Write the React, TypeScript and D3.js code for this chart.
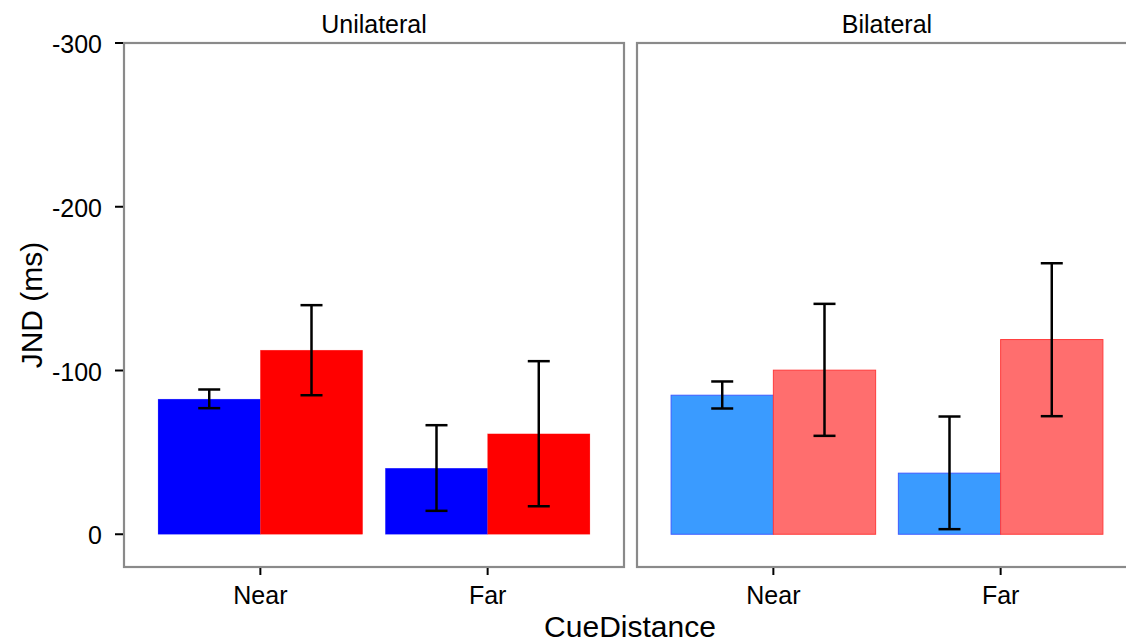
import React from "react";
import * as d3 from "d3";

const facets = ["Unilateral", "Bilateral"];
const categories = ["Near", "Far"];
const groups = ["Condition1", "Condition2"];

// mean values per facet, [Near, Far]
const uniBlue = [-82.5, -40.3];
const uniRed = [-112.4, -61.3];
const biBlue = [-84.9, -37.3];
const biRed = [-100.2, -118.9];

// error bar ends [low, high]
const uniBlueErr = [[-77.0, -88.4], [-14.3, -66.6]];
const uniRedErr = [[-84.9, -139.9], [-17.1, -105.7]];
const biBlueErr = [[-76.8, -93.3], [-3.1, -71.9]];
const biRedErr = [[-60.1, -140.7], [-72.1, -165.5]];

const yTicks = [-300, -200, -100, 0];
const yTickLabels = ["-300", "-200", "-100", "0"];

const W = 1126;
const H = 644;
const FONT = "'Liberation Sans', Arial, sans-serif";

const panelW = 500;
const panelLeft = [124, 637];
const top = 43;
const bottom = 567;

const styles = [
  [
    { fill: "#0000FF", stroke: "#0000FF" },
    { fill: "#FF0000", stroke: "#FF0000" },
  ],
  [
    { fill: "#3A9BFF", stroke: "#3F5CFF" },
    { fill: "#FF6E6E", stroke: "#FF3B3B" },
  ],
];

export default function App() {
  const y = d3.scaleLinear().domain([20, -300]).range([bottom, top]);
  const x = d3.scalePoint<string>().domain(categories).range([0, panelW]).padding(0.6);
  const step = x.step();
  const dodge = d3
    .scaleBand<string>()
    .domain(groups)
    .range([-0.45 * step, 0.45 * step])
    .padding(0);

  const data = [
    { means: [uniBlue, uniRed], errs: [uniBlueErr, uniRedErr] },
    { means: [biBlue, biRed], errs: [biBlueErr, biRedErr] },
  ];

  const capW = 22;

  return (
    <svg
      width={W}
      height={H}
      style={{ position: "absolute", left: 0, top: 0, background: "#fff" }}
      fontFamily={FONT}
    >
      <rect width={W} height={H} fill="#fff" />
      {facets.map((f, fi) => {
        const x0 = panelLeft[fi];
        return (
          <g key={f} transform={`translate(${x0},0)`}>
            <text
              x={panelW / 2}
              y={32.5}
              textAnchor="middle"
              fontSize={25}
              fill="#000"
            >
              {f}
            </text>
            {/* bars */}
            {groups.map((g, gi) =>
              categories.map((c, ci) => {
                const v = data[fi].means[gi][ci];
                const bx = (x(c) as number) + (dodge(g) as number);
                const st = styles[fi][gi];
                return (
                  <rect
                    key={g + c}
                    x={bx}
                    y={y(v)}
                    width={dodge.bandwidth()}
                    height={y(0) - y(v)}
                    fill={st.fill}
                    stroke={st.stroke}
                    strokeWidth={fi === 1 ? 1 : 0.5}
                    strokeOpacity={fi === 1 ? 1 : 0.4}
                  />
                );
              })
            )}
            {/* error bars */}
            {groups.map((g, gi) =>
              categories.map((c, ci) => {
                const [lo, hi] = data[fi].errs[gi][ci];
                const cx = (x(c) as number) + (dodge(g) as number) + dodge.bandwidth() / 2;
                return (
                  <g key={"e" + g + c} stroke="#000" strokeWidth={2.5} fill="none">
                    <line x1={cx} x2={cx} y1={y(lo)} y2={y(hi)} />
                    <line x1={cx - capW / 2} x2={cx + capW / 2} y1={y(lo)} y2={y(lo)} />
                    <line x1={cx - capW / 2} x2={cx + capW / 2} y1={y(hi)} y2={y(hi)} />
                  </g>
                );
              })
            )}
            {/* panel border */}
            <rect
              x={0}
              y={top}
              width={panelW}
              height={bottom - top}
              fill="none"
              stroke="#8a8a8a"
              strokeWidth={2.2}
            />
            {/* x ticks */}
            {categories.map((c) => (
              <g key={"xt" + c}>
                <line
                  x1={x(c)}
                  x2={x(c)}
                  y1={bottom + 1}
                  y2={bottom + 8}
                  stroke="#000"
                  strokeWidth={2}
                />
                <text
                  x={x(c)}
                  y={604}
                  textAnchor="middle"
                  fontSize={25}
                  fill="#000"
                >
                  {c}
                </text>
              </g>
            ))}
          </g>
        );
      })}
      {/* y axis ticks */}
      {yTicks.map((t, i) => (
        <g key={"yt" + t}>
          <line
            x1={115}
            x2={123}
            y1={y(t)}
            y2={y(t)}
            stroke="#000"
            strokeWidth={2}
          />
          <text
            x={102}
            y={y(t) + 10}
            textAnchor="end"
            fontSize={25}
            fill="#000"
          >
            {yTickLabels[i]}
          </text>
        </g>
      ))}
      <text
        transform={`translate(42,${(top + bottom) / 2}) rotate(-90)`}
        textAnchor="middle"
        fontSize={30}
        fill="#000"
      >
        JND (ms)
      </text>
      <text x={630} y={637} textAnchor="middle" fontSize={30} fill="#000">
        CueDistance
      </text>
    </svg>
  );
}
